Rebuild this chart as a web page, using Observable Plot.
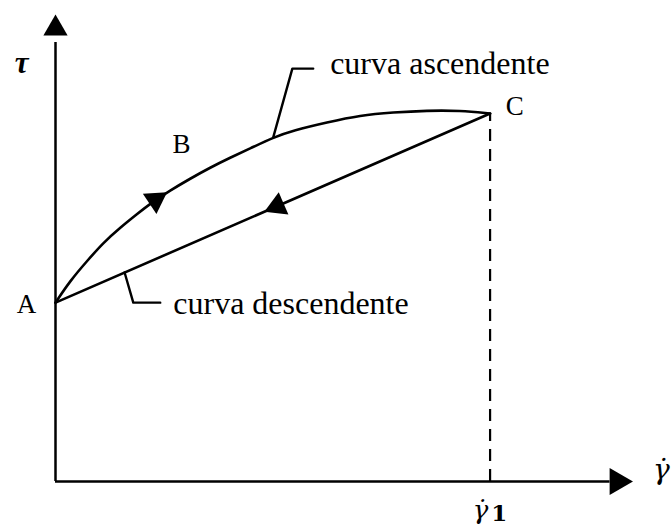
<!DOCTYPE html>
<html>
<head>
<meta charset="utf-8">
<script src="https://cdn.jsdelivr.net/npm/d3@7"></script>
<script src="https://cdn.jsdelivr.net/npm/@observablehq/plot@0.6"></script>
<style>
  body { margin: 0; background: #fff; }
</style>
</head>
<body>
<div id="chart"></div>
<script>
// Thixotropic loop: shear rate (relative to γ̇1) vs shear stress (relative to τ at C)
const upRate   = [0, 0.034, 0.074, 0.110, 0.149, 0.189, 0.218, 0.264, 0.310, 0.356, 0.402, 0.448, 0.501, 0.547, 0.625, 0.701, 0.777, 0.855, 0.931, 1];
const upStress = [0.486, 0.546, 0.601, 0.649, 0.690, 0.728, 0.755, 0.791, 0.823, 0.853, 0.880, 0.905, 0.935, 0.954, 0.976, 0.995, 1.003, 1.008, 1.008, 1];
const downRate   = [1, 0];
const downStress = [1, 0.486];

// Reference shear rate γ̇1 and axis extents
const rate1 = 1;
const rateAxisEnd = 1.276;
const stressAxisEnd = 1.193;

// Point labels
const pointNames  = ["A", "B", "C"];
const pointRate   = [-0.067, 0.290, 1.057];
const pointStress = [0.481, 0.916, 1.019];

// Curve names and their leader lines
const curveNames  = ["curva ascendente", "curva descendente"];
const curveRate   = [0.632, 0.271];
const curveStress = [1.136, 0.484];
const upLeaderRate     = [0.501, 0.545, 0.593];
const upLeaderStress   = [0.935, 1.122, 1.122];
const downLeaderRate   = [0.159, 0.179, 0.241];
const downLeaderStress = [0.568, 0.486, 0.486];

// Direction arrows along the loop
const upArrow   = {rate: 0.230, stress: 0.765};
const downArrow = {rate: 0.510, stress: 0.748};

const zip = (xs, ys) => xs.map((x, i) => ({x, y: ys[i]}));

const serif = "Liberation Serif, Times New Roman, serif";
const mathFont = "DejaVu Serif, serif";

const chart = Plot.plot({
  width: 672,
  height: 527,
  marginLeft: 55,
  marginRight: 39,
  marginTop: 14,
  marginBottom: 46,
  x: {domain: [0, 1.33], axis: null},
  y: {domain: [0, 1.269], axis: null},
  style: {background: "#fff"},
  marks: [
    // axes
    Plot.ruleX([0], {y1: 0, y2: stressAxisEnd, stroke: "#000", strokeWidth: 2.5}),
    Plot.ruleY([0], {x1: 0, x2: rateAxisEnd, stroke: "#000", strokeWidth: 2.5}),
    Plot.dot([{x: 0, y: 1.231}], {x: "x", y: "y", symbol: "triangle", r: 9, fill: "#000", stroke: "none"}),
    Plot.dot([{x: 1.293, y: 0}], {x: "x", y: "y", symbol: "triangle", r: 10, fill: "#000", stroke: "none", rotate: 90}),
    // γ̇1 reference line
    Plot.ruleX([rate1], {y1: 0, y2: 1, stroke: "#000", strokeWidth: 2.2, strokeDasharray: "12,8"}),
    // loop
    Plot.line(zip(upRate, upStress), {x: "x", y: "y", curve: "basis", stroke: "#000", strokeWidth: 2.6}),
    Plot.line(zip(downRate, downStress), {x: "x", y: "y", stroke: "#000", strokeWidth: 2.6}),
    Plot.dot([upArrow], {x: "rate", y: "stress", symbol: "triangle", r: 9, fill: "#000", stroke: "none", rotate: 56}),
    Plot.dot([downArrow], {x: "rate", y: "stress", symbol: "triangle", r: 9, fill: "#000", stroke: "none", rotate: 246.5}),
    // leaders
    Plot.line(zip(upLeaderRate, upLeaderStress), {x: "x", y: "y", stroke: "#000", strokeWidth: 2.4}),
    Plot.line(zip(downLeaderRate, downLeaderStress), {x: "x", y: "y", stroke: "#000", strokeWidth: 2.4}),
    // labels
    Plot.text(pointNames, {x: (d, i) => pointRate[i], y: (d, i) => pointStress[i], text: d => d,
      fontFamily: serif, fontSize: 27, fill: "#000"}),
    Plot.text(curveNames, {x: (d, i) => curveRate[i], y: (d, i) => curveStress[i], text: d => d,
      textAnchor: "start", fontFamily: serif, fontSize: 32, fill: "#000"}),
    Plot.text(["τ"], {x: -0.078, y: 1.136, text: d => d, fontFamily: serif, fontStyle: "italic",
      fontWeight: "bold", fontSize: 31, fill: "#000"}),
    Plot.text(["γ\u0307"], {x: 1.375, y: 0.030, text: d => d, textAnchor: "start", fontFamily: mathFont,
      fontStyle: "italic", fontSize: 28, fill: "#000"}),
    Plot.text(["γ\u0307"], {x: 0.978, y: -0.079, text: d => d, fontFamily: mathFont,
      fontStyle: "italic", fontSize: 26, fill: "#000"}),
    Plot.text(["1"], {x: 1.021, y: -0.086, text: d => d, fontFamily: mathFont,
      fontWeight: "bold", fontSize: 23, fill: "#000"})
  ]
});

document.getElementById("chart").append(chart);
</script>
</body>
</html>
